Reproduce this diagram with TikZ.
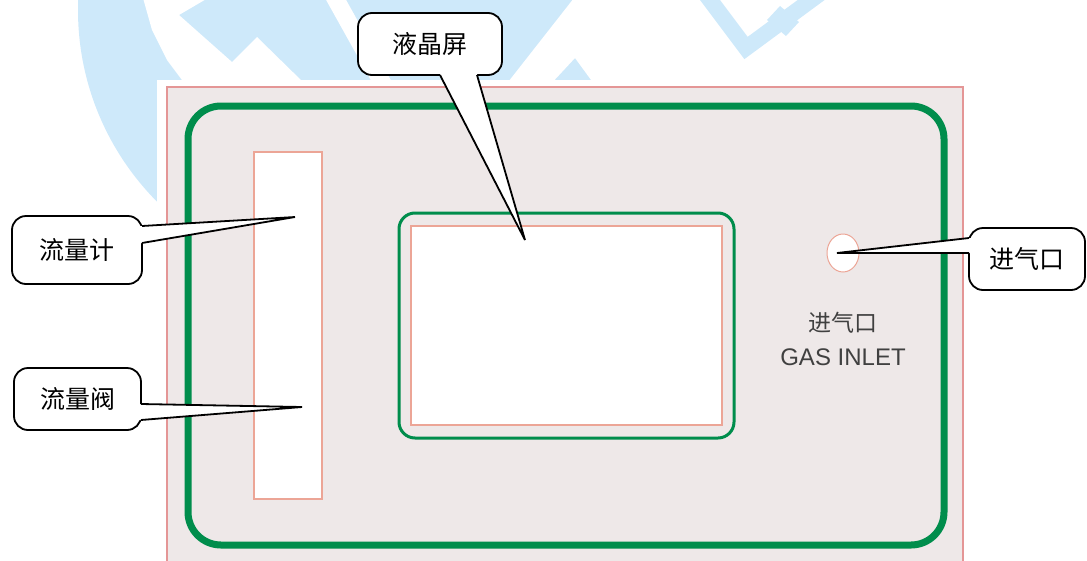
\documentclass[tikz,border=0pt]{standalone}
\usepackage{fontspec}
\setmainfont{Liberation Sans}
\newfontfamily\cjk{Noto Sans CJK SC}
\usetikzlibrary{calc}
\definecolor{wm}{RGB}{206,233,250}
\definecolor{pgreen}{RGB}{0,141,76}
\definecolor{panelbg}{RGB}{238,232,232}
\definecolor{salmon}{RGB}{236,165,150}
\definecolor{panelline}{RGB}{228,150,150}
\definecolor{labelgray}{RGB}{64,64,64}
\begin{document}
\begin{tikzpicture}[x=1pt,y=-1pt,
  callout/.style={draw=black, line width=1.8pt, fill=white, rounded corners=14pt,
    font=\cjk\fontsize{25}{25}\selectfont, inner sep=0pt},
  ptr/.style={draw=black, line width=1.8pt, line join=miter},
  ptrfill/.style={fill=white},
  panellabel/.style={text=labelgray, inner sep=0pt},
  salmonbox/.style={draw=salmon, fill=white, line width=1.2pt},
  wmark/.style={fill=wm},
  wmcut/.style={fill=white}]
\useasboundingbox (0,0) rectangle (1087,560);
% ---------- watermark ----------
\begin{scope}
  \clip (0,0) rectangle (1087,560);
  \fill[wmark] (350,10) circle [radius=272];
  \fill[wmcut] (143,-2) -- (208,-2) -- (179,15) -- (232,62) -- (257,37) -- (305,84)
     -- (185,84) -- (167,60) -- (152,30) -- cycle;
  \fill[wmcut] (325,-2) -- (345,-2) -- (393,84) -- (373,84) -- cycle;
  \fill[wmcut] (574,-2) -- (640,-2) -- (640,86) -- (594,84) -- (575,58) -- (549,86)
     -- (505,86) -- cycle;
  \draw[wm, line width=16pt, line join=miter] (704,-8) -- (746,48) -- (822,-8);
  \fill[wmark] (780,6) -- (799,22) -- (786,36) -- (767,20) -- cycle;
\end{scope}
% ---------- panel ----------
\fill[white] (157,80) rectangle (975,560);
\draw[panelline, line width=1.3pt, fill=panelbg] (167,87) rectangle (963,575);
\draw[pgreen, line width=7pt, rounded corners=33pt] (188,106) rectangle (944,545);
\draw[salmonbox] (254,152) rectangle (322,499);
\draw[pgreen, line width=3pt, rounded corners=16pt] (399,213) rectangle (734,438);
\draw[salmonbox] (411,226) rectangle (722,425);
\draw[draw=salmon, fill=white, line width=1pt] (843,253) ellipse [x radius=16, y radius=19];
\node[panellabel, font=\cjk\fontsize{23}{23}\selectfont] (cnlabel) at (843,323) {进气口};
\node[panellabel, font=\fontsize{24}{24}\selectfont] (enlabel) at (843,357) {GAS INLET};
% ---------- callouts ----------
\node[callout, minimum width=144pt, minimum height=62pt] (lcd) at (430,44) {液晶屏};
\coordinate (lcdtip) at (525,240);
\fill[ptrfill] (440,72) -- (440,75) -- (lcdtip) -- (477,75) -- (477,72) -- cycle;
\draw[ptr] (440,75) -- (lcdtip) -- (477,75);

\node[callout, minimum width=130pt, minimum height=68pt] (meter) at (77,250) {流量计};
\coordinate (metertip) at (295,217);
\fill[ptrfill] (139,226) -- (142,226) -- (metertip) -- (142,243) -- (139,243) -- cycle;
\draw[ptr] (142,226) -- (metertip) -- (142,243);

\node[callout, minimum width=127pt, minimum height=62pt] (valve) at (77.5,399) {流量阀};
\coordinate (valvetip) at (302,407);
\fill[ptrfill] (138,404) -- (141,404) -- (valvetip) -- (141,420) -- (138,420) -- cycle;
\draw[ptr] (141,404) -- (valvetip) -- (141,420);

\node[callout, minimum width=116pt, minimum height=62pt] (inlet) at (1027,259) {进气口};
\coordinate (inlettip) at (837,253);
\fill[ptrfill] (972,238) -- (969,238) -- (inlettip) -- (969,253) -- (972,253) -- cycle;
\draw[ptr] (969,238) -- (inlettip) -- (969,253);
\end{tikzpicture}
\end{document}
